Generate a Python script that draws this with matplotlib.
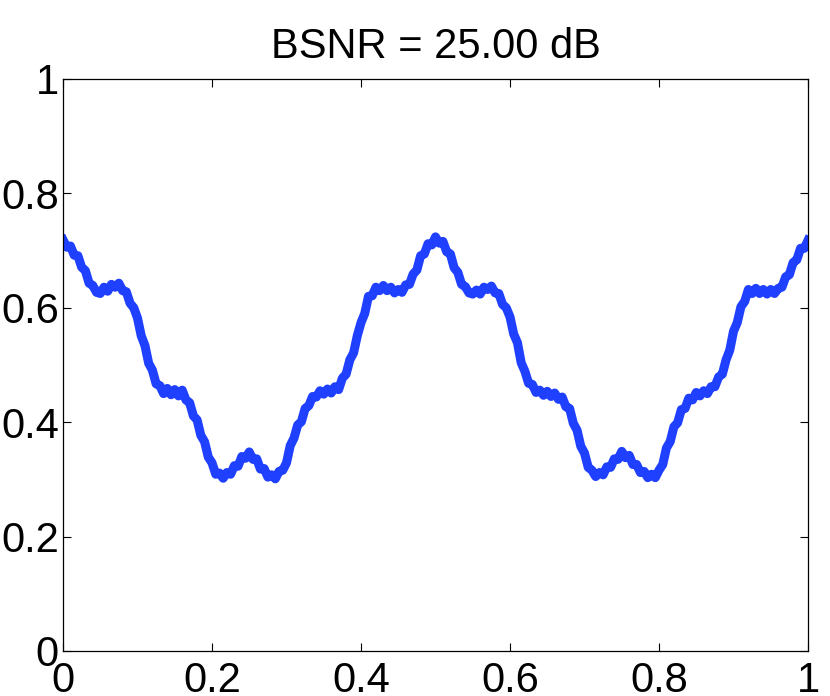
import numpy as np
import matplotlib
matplotlib.use("Agg")
import matplotlib.pyplot as plt

plt.rcParams['font.family'] = ['Liberation Sans', 'DejaVu Sans']

# noisy signal (x step 0.005)
x = np.linspace(0, 1, 201)
signal = [
    0.719, 0.706, 0.708, 0.692, 0.691, 0.671, 0.665, 0.643, 0.639, 0.627,
    0.625, 0.636, 0.629, 0.641, 0.636, 0.643, 0.630, 0.628, 0.608, 0.600,
    0.582, 0.551, 0.534, 0.503, 0.491, 0.467, 0.464, 0.450, 0.459, 0.448,
    0.457, 0.446, 0.456, 0.439, 0.434, 0.411, 0.404, 0.377, 0.366, 0.339,
    0.329, 0.309, 0.311, 0.302, 0.312, 0.309, 0.324, 0.323, 0.340, 0.337,
    0.348, 0.335, 0.336, 0.318, 0.319, 0.304, 0.308, 0.301, 0.314, 0.316,
    0.329, 0.359, 0.372, 0.395, 0.401, 0.424, 0.429, 0.445, 0.444, 0.455,
    0.449, 0.458, 0.451, 0.462, 0.457, 0.477, 0.484, 0.509, 0.521, 0.551,
    0.574, 0.590, 0.620, 0.621, 0.636, 0.630, 0.639, 0.630, 0.636, 0.626,
    0.632, 0.627, 0.640, 0.641, 0.659, 0.666, 0.691, 0.694, 0.712, 0.710,
    0.724, 0.713, 0.716, 0.698, 0.694, 0.670, 0.662, 0.641, 0.637, 0.626,
    0.624, 0.631, 0.624, 0.636, 0.632, 0.638, 0.626, 0.625, 0.606, 0.600,
    0.584, 0.554, 0.539, 0.504, 0.489, 0.468, 0.466, 0.452, 0.456, 0.447,
    0.454, 0.445, 0.451, 0.440, 0.444, 0.427, 0.424, 0.398, 0.386, 0.358,
    0.346, 0.321, 0.316, 0.305, 0.312, 0.308, 0.322, 0.321, 0.336, 0.335,
    0.349, 0.338, 0.342, 0.326, 0.326, 0.312, 0.314, 0.303, 0.309, 0.303,
    0.316, 0.326, 0.355, 0.366, 0.392, 0.399, 0.422, 0.424, 0.442, 0.439,
    0.452, 0.446, 0.455, 0.450, 0.462, 0.462, 0.479, 0.484, 0.509, 0.526,
    0.559, 0.574, 0.602, 0.611, 0.632, 0.625, 0.634, 0.625, 0.632, 0.624,
    0.632, 0.625, 0.634, 0.636, 0.654, 0.658, 0.679, 0.684, 0.704, 0.704,
    0.718,
]
xticks = [0, 0.2, 0.4, 0.6, 0.8, 1]
xticklabels = ["0", "0.2", "0.4", "0.6", "0.8", "1"]
yticks = [0, 0.2, 0.4, 0.6, 0.8, 1]
yticklabels = ["0", "0.2", "0.4", "0.6", "0.8", "1"]

fig = plt.figure(figsize=(8.3, 6.96), dpi=100)
ax = fig.add_axes([63/830, 1 - 651/696, 745/830, 572/696])

ax.plot(x, signal, color='#2040ff', linewidth=6.5)

ax.set_xlim(0, 1)
ax.set_ylim(0, 1)
ax.set_xticks(xticks)
ax.set_xticklabels(xticklabels)
ax.set_yticks(yticks)
ax.set_yticklabels(yticklabels)
ax.tick_params(direction='in', length=6, width=0.8, labelsize=30,
               top=True, right=True)
ax.tick_params(axis='x', pad=7)
ax.tick_params(axis='y', pad=3)
for s in ax.spines.values():
    s.set_linewidth(0.9)

ax.set_title("BSNR = 25.00 dB", fontsize=30, pad=15)

fig.savefig("out.png", dpi=100)
